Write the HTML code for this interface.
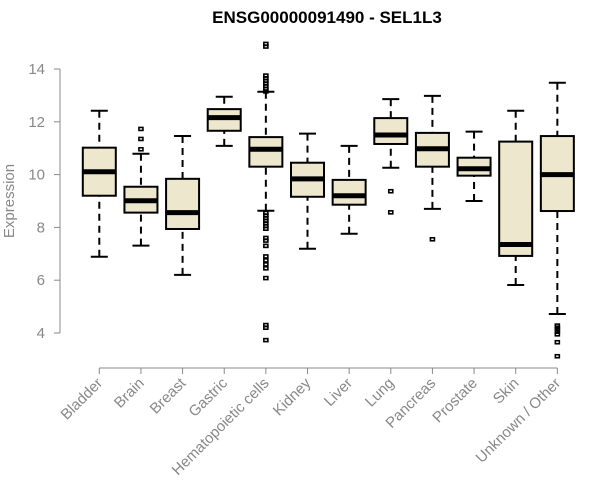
<!DOCTYPE html>
<html><head><meta charset="utf-8"><style>
body{margin:0;background:#fff;}
svg{display:block;font-family:"Liberation Sans",Arial,sans-serif;}
</style></head><body>
<svg id="chart" width="600" height="500" viewBox="0 0 600 500">
<text x="327" y="23" text-anchor="middle" font-weight="bold" font-size="17">ENSG00000091490 - SEL1L3</text>
<text x="0" y="0" transform="translate(14,201) rotate(-90)" text-anchor="middle" font-size="15" fill="#888">Expression</text>
<g id="axes"></g>
<g id="boxes"></g>
</svg>
<script>
const categories=["Bladder","Brain","Breast","Gastric","Hematopoietic cells","Kidney","Liver","Lung","Pancreas","Prostate","Skin","Unknown / Other"];
const whiskerLow=[6.89,7.31,6.20,11.09,8.63,7.19,7.76,10.26,8.70,9.00,5.82,4.72];
const q1=[9.20,8.56,7.94,11.66,10.30,9.16,8.86,11.16,10.30,9.96,6.92,8.62];
const median=[10.11,9.01,8.56,12.16,10.96,9.84,9.20,11.50,10.98,10.22,7.35,10.00];
const q3=[11.02,9.54,9.84,12.48,11.42,10.45,9.80,12.14,11.58,10.64,11.25,11.46];
const whiskerHigh=[12.42,10.79,11.46,12.95,13.14,11.55,11.09,12.86,12.98,11.63,12.42,13.48];
const outliers=[[],[11.73,11.35,10.96],[],[],[14.95,14.85,13.75,13.65,13.55,13.45,13.35,13.25,13.15,8.55,8.45,8.35,8.25,8.15,8.05,7.95,7.6,7.5,7.3,6.9,6.75,6.6,6.45,6.08,4.3,4.2,3.73],[],[],[9.37,8.57],[7.55],[],[],[4.28,4.2,4.12,4.05,3.95,3.65,3.12]];
const yTicks=[4,6,8,10,12,14];
const NS="http://www.w3.org/2000/svg";
function y(v){return 69+(14-v)*26.4;}
function x(i){return 99.3+i*41.64;}
function mk(t,a,p){const e=document.createElementNS(NS,t);for(const k in a)e.setAttribute(k,a[k]);p.appendChild(e);return e;}
const ax=document.getElementById('axes'),bx=document.getElementById('boxes');
let l=mk('line',{x1:60,x2:60,y1:y(14),y2:y(4),stroke:'#888','stroke-width':1},ax);


yTicks.forEach(v=>{
 let t=mk('line',{x1:54,x2:60,y1:y(v),y2:y(v),stroke:'#888'},ax);
 
 
 let tx=mk('text',{x:45,y:y(v)+5,'text-anchor':'end','font-size':15,fill:'#888'},ax);tx.textContent=v;
 
 
});
l=mk('line',{x1:x(0),x2:x(11),y1:368,y2:368,stroke:'#888'},ax);


const bw=33,cw=17;
categories.forEach((c,i)=>{
 const cx=x(i);
 let t=mk('line',{x1:cx,x2:cx,y1:368,y2:374,stroke:'#888'},ax);
 
 
 let tx=mk('text',{x:0,y:0,transform:`translate(${cx+4},${384}) rotate(-45)`,'text-anchor':'end','font-size':15,fill:'#888'},ax);tx.textContent=c;
 
 
 const g=mk('g',{},bx);
 
 
 mk('line',{x1:cx,x2:cx,y1:y(whiskerHigh[i]),y2:y(q3[i]),stroke:'#000','stroke-width':2,'stroke-dasharray':'7,5'},g);
 mk('line',{x1:cx,x2:cx,y1:y(whiskerLow[i]),y2:y(q1[i]),stroke:'#000','stroke-width':2,'stroke-dasharray':'7,5'},g);
 mk('line',{x1:cx-cw/2,x2:cx+cw/2,y1:y(whiskerHigh[i]),y2:y(whiskerHigh[i]),stroke:'#000','stroke-width':2},g);
 mk('line',{x1:cx-cw/2,x2:cx+cw/2,y1:y(whiskerLow[i]),y2:y(whiskerLow[i]),stroke:'#000','stroke-width':2},g);
 mk('rect',{x:cx-bw/2,y:y(q3[i]),width:bw,height:y(q1[i])-y(q3[i]),fill:'#ede7cd',stroke:'#000','stroke-width':2},g);
 mk('line',{x1:cx-bw/2,x2:cx+bw/2,y1:y(median[i]),y2:y(median[i]),stroke:'#000','stroke-width':5},g);
 outliers[i].forEach(v=>{
  const o=mk('rect',{x:cx-2,y:y(v)-1.5,width:4,height:3,fill:'none',stroke:'#000','stroke-width':1.6},g);
  
  
 });
});
</script>
</body></html>
